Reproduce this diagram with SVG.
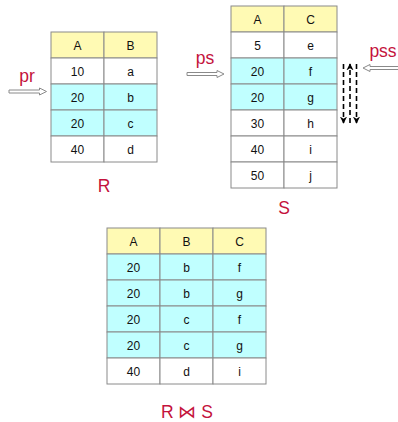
<svg xmlns="http://www.w3.org/2000/svg" width="398" height="422" viewBox="0 0 398 422">
  <style>
    .cell { stroke: #8a8a8a; stroke-width: 1; }
    .hdr { fill: #fffab4; }
    .hit { fill: #c0ffff; }
    .row { fill: #ffffff; }
    .t { font-family: "Liberation Sans", Arial, sans-serif; font-size: 12px; fill: #111; text-anchor: middle; }
    .lbl { font-family: "Liberation Sans", Arial, sans-serif; font-size: 17.5px; fill: #c4123c; text-anchor: middle; }
    .hollow { fill: #ffffff; stroke: #8a8a8a; stroke-width: 1; }
    .scan { stroke: #000; stroke-width: 1.6; stroke-dasharray: 5 3; fill: none; }
  </style>
  <defs>
    <marker id="head" viewBox="0 0 10 10" refX="9" refY="5" markerWidth="4.5" markerHeight="4.5" orient="auto" markerUnits="strokeWidth">
      <path d="M0,0 L10,5 L0,10 L3,5 Z" fill="#000"/>
    </marker>
  </defs>
  <rect width="398" height="422" fill="#ffffff"/>

  <!-- Relation R -->
  <g id="table-R">
    <rect class="cell hdr" x="51" y="32" width="53" height="26"/>
    <rect class="cell hdr" x="104" y="32" width="53" height="26"/>
    <rect class="cell row" x="51" y="58" width="53" height="26"/>
    <rect class="cell row" x="104" y="58" width="53" height="26"/>
    <rect class="cell hit" x="51" y="84" width="53" height="26"/>
    <rect class="cell hit" x="104" y="84" width="53" height="26"/>
    <rect class="cell hit" x="51" y="110" width="53" height="26"/>
    <rect class="cell hit" x="104" y="110" width="53" height="26"/>
    <rect class="cell row" x="51" y="136" width="53" height="26"/>
    <rect class="cell row" x="104" y="136" width="53" height="26"/>
    <text class="t" x="77.5" y="49.5">A</text><text class="t" x="130.5" y="49.5">B</text>
    <text class="t" x="77.5" y="75.5">10</text><text class="t" x="130.5" y="75.5">a</text>
    <text class="t" x="77.5" y="101.5">20</text><text class="t" x="130.5" y="101.5">b</text>
    <text class="t" x="77.5" y="127.5">20</text><text class="t" x="130.5" y="127.5">c</text>
    <text class="t" x="77.5" y="153.5">40</text><text class="t" x="130.5" y="153.5">d</text>
    <text class="lbl" x="104" y="192">R</text>
  </g>

  <!-- Relation S -->
  <g id="table-S">
    <rect class="cell hdr" x="231" y="6" width="53" height="26"/>
    <rect class="cell hdr" x="284" y="6" width="53" height="26"/>
    <rect class="cell row" x="231" y="32" width="53" height="26"/>
    <rect class="cell row" x="284" y="32" width="53" height="26"/>
    <rect class="cell hit" x="231" y="58" width="53" height="26"/>
    <rect class="cell hit" x="284" y="58" width="53" height="26"/>
    <rect class="cell hit" x="231" y="84" width="53" height="26"/>
    <rect class="cell hit" x="284" y="84" width="53" height="26"/>
    <rect class="cell row" x="231" y="110" width="53" height="26"/>
    <rect class="cell row" x="284" y="110" width="53" height="26"/>
    <rect class="cell row" x="231" y="136" width="53" height="26"/>
    <rect class="cell row" x="284" y="136" width="53" height="26"/>
    <rect class="cell row" x="231" y="162" width="53" height="26"/>
    <rect class="cell row" x="284" y="162" width="53" height="26"/>
    <text class="t" x="257.5" y="23.5">A</text><text class="t" x="310.5" y="23.5">C</text>
    <text class="t" x="257.5" y="49.5">5</text><text class="t" x="310.5" y="49.5">e</text>
    <text class="t" x="257.5" y="75.5">20</text><text class="t" x="310.5" y="75.5">f</text>
    <text class="t" x="257.5" y="101.5">20</text><text class="t" x="310.5" y="101.5">g</text>
    <text class="t" x="257.5" y="127.5">30</text><text class="t" x="310.5" y="127.5">h</text>
    <text class="t" x="257.5" y="153.5">40</text><text class="t" x="310.5" y="153.5">i</text>
    <text class="t" x="257.5" y="179.5">50</text><text class="t" x="310.5" y="179.5">j</text>
    <text class="lbl" x="284" y="214">S</text>
  </g>

  <!-- Join result -->
  <g id="table-join">
    <rect class="cell hdr" x="107" y="228" width="53" height="26"/>
    <rect class="cell hdr" x="160" y="228" width="53" height="26"/>
    <rect class="cell hdr" x="213" y="228" width="53" height="26"/>
    <rect class="cell hit" x="107" y="254" width="53" height="26"/>
    <rect class="cell hit" x="160" y="254" width="53" height="26"/>
    <rect class="cell hit" x="213" y="254" width="53" height="26"/>
    <rect class="cell hit" x="107" y="280" width="53" height="26"/>
    <rect class="cell hit" x="160" y="280" width="53" height="26"/>
    <rect class="cell hit" x="213" y="280" width="53" height="26"/>
    <rect class="cell hit" x="107" y="306" width="53" height="26"/>
    <rect class="cell hit" x="160" y="306" width="53" height="26"/>
    <rect class="cell hit" x="213" y="306" width="53" height="26"/>
    <rect class="cell hit" x="107" y="332" width="53" height="26"/>
    <rect class="cell hit" x="160" y="332" width="53" height="26"/>
    <rect class="cell hit" x="213" y="332" width="53" height="26"/>
    <rect class="cell row" x="107" y="358" width="53" height="26"/>
    <rect class="cell row" x="160" y="358" width="53" height="26"/>
    <rect class="cell row" x="213" y="358" width="53" height="26"/>
    <text class="t" x="133.5" y="245.5">A</text><text class="t" x="186.5" y="245.5">B</text><text class="t" x="239.5" y="245.5">C</text>
    <text class="t" x="133.5" y="271.5">20</text><text class="t" x="186.5" y="271.5">b</text><text class="t" x="239.5" y="271.5">f</text>
    <text class="t" x="133.5" y="297.5">20</text><text class="t" x="186.5" y="297.5">b</text><text class="t" x="239.5" y="297.5">g</text>
    <text class="t" x="133.5" y="323.5">20</text><text class="t" x="186.5" y="323.5">c</text><text class="t" x="239.5" y="323.5">f</text>
    <text class="t" x="133.5" y="349.5">20</text><text class="t" x="186.5" y="349.5">c</text><text class="t" x="239.5" y="349.5">g</text>
    <text class="t" x="133.5" y="375.5">40</text><text class="t" x="186.5" y="375.5">d</text><text class="t" x="239.5" y="375.5">i</text>
    <text class="lbl" x="187" y="418">R ⋈ S</text>
  </g>

  <!-- Cursor pointers -->
  <g id="pointers">
    <text class="lbl" x="27" y="82">pr</text>
    <text class="lbl" x="205" y="64">ps</text>
    <text class="lbl" x="383" y="57">pss</text>
  </g>

  <g id="connectors">
    <polygon class="hollow" points="9,90 39.5,90 39.5,88 46.5,91.5 39.5,95 39.5,93 9,93"/>
    <polygon class="hollow" points="187,72.5 217,72.5 217,70.5 224,74 217,77.5 217,75.5 187,75.5"/>
    <polygon class="hollow" points="399,66.5 370,66.5 370,64.5 363,68 370,71.5 370,69.5 399,69.5"/>
    <line class="scan" x1="343.5" y1="64" x2="343.5" y2="123" marker-end="url(#head)"/>
    <line class="scan" x1="350" y1="123" x2="350" y2="64" marker-end="url(#head)"/>
    <line class="scan" x1="356.5" y1="64" x2="356.5" y2="123" marker-end="url(#head)"/>
  </g>
</svg>
